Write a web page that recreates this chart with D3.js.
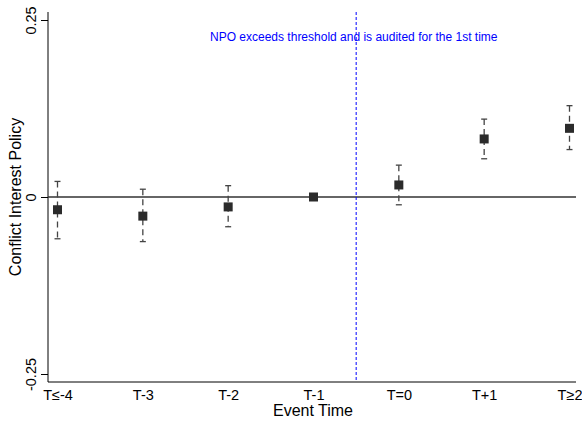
<!DOCTYPE html>
<html>
<head>
<meta charset="utf-8">
<script src="https://cdn.jsdelivr.net/npm/d3@7"></script>
<style>
  html, body { margin: 0; padding: 0; background: #fff; }
  svg { display: block; font-family: "Liberation Sans", Arial, sans-serif; }
</style>
</head>
<body>
<svg id="chart" width="582" height="421"></svg>
<script>
// Event-time categories and estimates with 95% confidence bounds
const categories = ["T\u2264-4", "T-3", "T-2", "T-1", "T=0", "T+1", "T\u22652"];
const estimates  = [-0.018, -0.027, -0.014, 0.000, 0.017, 0.082, 0.097];
const ciLower    = [-0.059, -0.063, -0.042, null, -0.011, 0.054, 0.067];
const ciUpper    = [ 0.022,  0.011,  0.016, null,  0.045, 0.110, 0.129];
const yTicks     = [-0.25, 0, 0.25];
const yTickLabels = ["-0.25", "0", "0.25"];

const svg = d3.select("#chart");
const plot = { left: 48, right: 576, top: 12, bottom: 382 };

const x = d3.scalePoint()
  .domain(categories)
  .range([57.5, 569.5]);

const y = d3.scaleLinear()
  .domain([-0.25, 0.25])
  .range([374, 20]);

// Axis lines
svg.append("line")
  .attr("x1", plot.left).attr("x2", plot.left)
  .attr("y1", plot.top).attr("y2", plot.bottom)
  .attr("stroke", "#000").attr("stroke-width", 1);
svg.append("line")
  .attr("x1", plot.left).attr("x2", plot.right)
  .attr("y1", plot.bottom).attr("y2", plot.bottom)
  .attr("stroke", "#000").attr("stroke-width", 1);

// Left axis: ticks with vertical labels
const yAxis = d3.axisLeft(y)
  .tickValues(yTicks)
  .tickFormat((d, i) => yTickLabels[i])
  .tickSize(7);
const yg = svg.append("g")
  .attr("transform", `translate(${plot.left},0)`)
  .call(yAxis);
yg.select(".domain").remove();
yg.selectAll(".tick line").attr("stroke", "#000");
yg.selectAll(".tick text")
  .attr("font-size", 14.5)
  .attr("fill", "#000")
  .attr("text-anchor", "middle")
  .attr("x", 0)
  .attr("y", -12)
  .attr("dy", 0)
  .attr("transform", "rotate(-90)");

// Bottom axis: labels only
const xAxis = d3.axisBottom(x).tickSize(0).tickPadding(8);
const xg = svg.append("g")
  .attr("transform", `translate(0,${plot.bottom})`)
  .call(xAxis);
xg.select(".domain").remove();
xg.selectAll(".tick text").attr("font-size", 14.5).attr("fill", "#000");

// Axis titles
svg.append("text")
  .attr("x", 313)
  .attr("y", 416)
  .attr("text-anchor", "middle")
  .attr("font-size", 16)
  .text("Event Time");
svg.append("text")
  .attr("transform", `translate(21,${y(0)}) rotate(-90)`)
  .attr("text-anchor", "middle")
  .attr("font-size", 16)
  .text("Conflict Interest Policy");

// Zero reference line
svg.append("line")
  .attr("x1", plot.left).attr("x2", plot.right)
  .attr("y1", y(0)).attr("y2", y(0))
  .attr("stroke", "#333").attr("stroke-width", 1.3);

// Treatment onset line between T-1 and T=0
const onsetX = (x("T-1") + x("T=0")) / 2;
svg.append("line")
  .attr("x1", onsetX).attr("x2", onsetX)
  .attr("y1", plot.top).attr("y2", plot.bottom)
  .attr("stroke", "#0000ff").attr("stroke-width", 1)
  .attr("stroke-dasharray", "3,2");
svg.append("text")
  .attr("x", 210)
  .attr("y", 41)
  .attr("font-size", 12)
  .attr("fill", "#0000ff")
  .text("NPO exceeds threshold and is audited for the 1st time");

// Confidence intervals
const rows = categories.map((c, i) => ({ c, est: estimates[i], lo: ciLower[i], hi: ciUpper[i] }));
const ci = rows.filter(d => d.lo !== null);
const capW = 3;

svg.append("g").selectAll("line")
  .data(ci).join("line")
  .attr("x1", d => x(d.c)).attr("x2", d => x(d.c))
  .attr("y1", d => y(d.hi)).attr("y2", d => y(d.lo))
  .attr("stroke", "#444").attr("stroke-width", 1.3)
  .attr("stroke-dasharray", "6,4");
svg.append("g").selectAll("line")
  .data(ci).join("line")
  .attr("x1", d => x(d.c) - capW).attr("x2", d => x(d.c) + capW)
  .attr("y1", d => y(d.hi)).attr("y2", d => y(d.hi))
  .attr("stroke", "#444").attr("stroke-width", 1.3);
svg.append("g").selectAll("line")
  .data(ci).join("line")
  .attr("x1", d => x(d.c) - capW).attr("x2", d => x(d.c) + capW)
  .attr("y1", d => y(d.lo)).attr("y2", d => y(d.lo))
  .attr("stroke", "#444").attr("stroke-width", 1.3);

// Point estimates
const sq = 9;
svg.append("g").selectAll("rect")
  .data(rows).join("rect")
  .attr("x", d => x(d.c) - sq / 2)
  .attr("y", d => y(d.est) - sq / 2)
  .attr("width", sq).attr("height", sq)
  .attr("fill", "#2b2b2b");
</script>
</body>
</html>
